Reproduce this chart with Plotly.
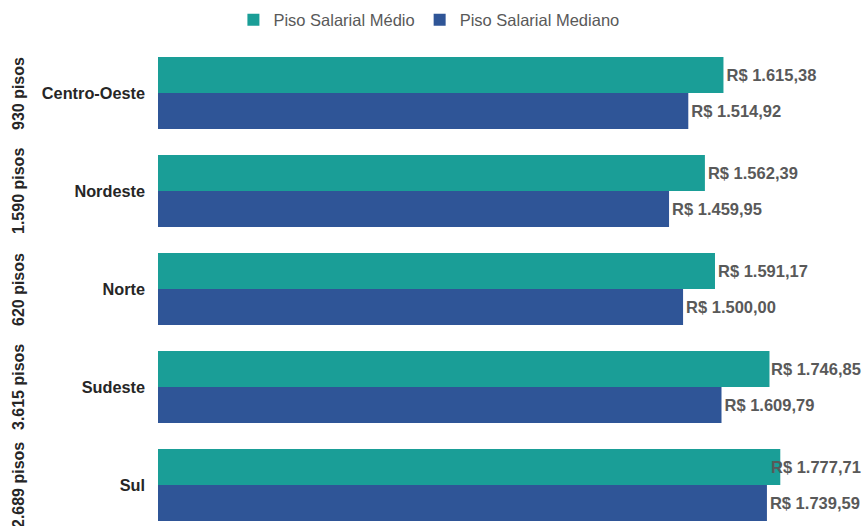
import plotly.graph_objects as go

regioes = ["Centro-Oeste", "Nordeste", "Norte", "Sudeste", "Sul"]
pisos = ["930 pisos", "1.590 pisos", "620 pisos", "3.615 pisos", "2.689 pisos"]
medio = [1615.38, 1562.39, 1591.17, 1746.85, 1777.71]
mediano = [1514.92, 1459.95, 1500.00, 1609.79, 1739.59]

LABEL_LIMIT = 1745  # labels of values above this are pinned to the right edge


def brl(v):
    s = f"{v:,.2f}".replace(",", "X").replace(".", ",").replace("X", ".")
    return "R$ " + s


FONT = "Liberation Sans, Arial, sans-serif"
LBL = dict(family=FONT, size=16.5, color="#595959", weight="bold")

fig = go.Figure()
series = [("Piso Salarial Médio", medio, "#1A9E97", 18),
          ("Piso Salarial Mediano", mediano, "#2F5597", -18)]
for name, vals, color, shift in series:
    fig.add_trace(go.Bar(
        y=regioes, x=vals, orientation="h", name=name,
        marker=dict(color=color, line=dict(width=0)),
        text=[brl(v) if v <= LABEL_LIMIT else "" for v in vals],
        textposition="outside", cliponaxis=False, constraintext="none",
        textfont=LBL,
    ))
    for r, v in zip(regioes, vals):
        if v > LABEL_LIMIT:
            fig.add_annotation(x=1, xref="paper", xanchor="right", xshift=0,
                               y=r, yref="y", yshift=shift, text=brl(v),
                               showarrow=False, font=LBL)

for r, p in zip(regioes, pisos):
    fig.add_annotation(x=-0.1986, xref="paper", xanchor="center",
                       y=r, yref="y", text=p, textangle=-90, showarrow=False,
                       font=dict(family=FONT, size=16, color="#262626", weight="bold"))

fig.update_layout(
    width=863, height=526,
    margin=dict(l=158, r=0, t=44, b=0, autoexpand=False),
    plot_bgcolor="white", paper_bgcolor="white",
    barmode="group", bargap=0.265, bargroupgap=0,
    showlegend=True,
    legend=dict(orientation="h", xref="container", x=0.497, xanchor="center",
                yref="container", y=0.962, yanchor="middle", itemwidth=30,
                font=dict(family=FONT, size=16.5, color="#595959"),
                traceorder="normal"),
    font=dict(family=FONT),
)
fig.update_xaxes(range=[0, 2014], showticklabels=False, showgrid=False,
                 zeroline=False, showline=False, automargin=False)
fig.update_yaxes(categoryorder="array", categoryarray=regioes,
                 range=[4.418, -0.5], showgrid=False, zeroline=False,
                 showline=False, ticks="", ticklabelstandoff=12, automargin=False,
                 tickfont=dict(family=FONT, size=16.3, color="#262626", weight="bold"))

fig.write_html("out.html", config={"displayModeBar": False},
               post_script="document.body.style.margin='0';")
